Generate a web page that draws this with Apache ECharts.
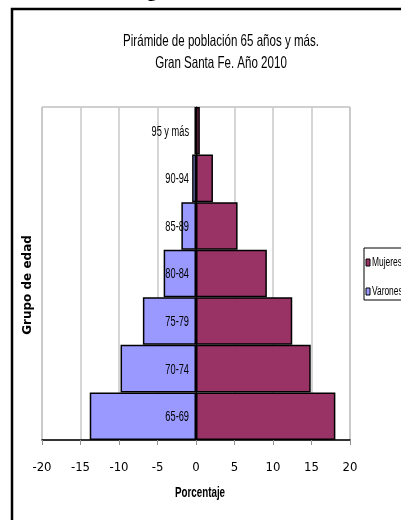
<!DOCTYPE html>
<html>
<head>
<meta charset="utf-8">
<script src="https://cdn.jsdelivr.net/npm/echarts@6/dist/echarts.min.js"></script>
<style>
  html, body { margin: 0; padding: 0; background: #fff; }
  #chart { width: 401px; height: 520px; }
</style>
</head>
<body>
<div id="chart"></div>
<script>
// Age groups, bottom to top
var ageGroups = ['65-69', '70-74', '75-79', '80-84', '85-89', '90-94', '95 y más'];
// Percent of the 65+ population, men shown as negative values
var varones = [-13.8, -9.8, -6.9, -4.2, -1.9, -0.5, -0.2];
var mujeres = [18.1, 14.9, 12.5, 9.2, 5.4, 2.2, 0.5];
var xTicks = { min: -20, max: 20, step: 5 };

var colorMujeres = '#993366';
var colorVarones = '#9999ff';

var sans = "'Liberation Sans', Arial, sans-serif";
var cond = "'DejaVu Sans Condensed', 'DejaVu Sans', sans-serif";

var chart = echarts.init(document.getElementById('chart'), null, { renderer: 'canvas' });

// Narrow age-group labels placed just left of the zero line
function renderAgeLabel(params, api) {
  var p = api.coord([0, api.value(1)]);
  return {
    type: 'text',
    x: p[0] - 7,
    y: p[1] + 1,
    scaleX: 0.66,
    z2: 100,
    style: {
      text: ageGroups[api.value(1)],
      font: '14px ' + sans,
      fill: '#000',
      align: 'right',
      verticalAlign: 'middle'
    }
  };
}

// Boxed legend on the right edge, with condensed text
function legendItem(name, color, y) {
  return [
    {
      type: 'rect', silent: true,
      shape: { x: 366, y: y - 3, width: 4, height: 7 },
      style: { fill: color, stroke: '#000', lineWidth: 1 }
    },
    {
      type: 'text', silent: true,
      x: 372, y: y + 1, scaleX: 0.7,
      style: { text: name, font: '12px ' + sans, fill: '#000', verticalAlign: 'middle' }
    }
  ];
}

chart.setOption({
  animation: false,
  backgroundColor: '#fff',
  grid: {
    left: 42, right: 51, top: 107, bottom: 80,
    outerBoundsMode: 'none',
    containLabel: false,
    show: true, borderColor: '#a0a0a0', borderWidth: 1
  },
  legend: { show: false, data: ['Mujeres', 'Varones'] },
  xAxis: {
    type: 'value',
    min: xTicks.min, max: xTicks.max, interval: xTicks.step,
    axisLine: { show: true, onZero: false, lineStyle: { color: '#000', width: 1.5 } },
    axisTick: { show: true, length: 5, lineStyle: { color: '#909090' } },
    splitLine: { show: true, lineStyle: { color: '#c8c8c8', width: 1.5 } },
    axisLabel: { fontFamily: cond, fontSize: 13, color: '#000', margin: 21 }
  },
  yAxis: {
    type: 'category',
    data: ageGroups,
    axisLine: { show: true, onZero: true, lineStyle: { color: '#000' } },
    axisTick: { show: false },
    splitLine: { show: false },
    axisLabel: { show: false }
  },
  series: [
    {
      name: 'Mujeres', type: 'bar', stack: 'pop',
      data: mujeres,
      barCategoryGap: 0,
      itemStyle: { color: colorMujeres, borderColor: '#000', borderWidth: 1.5 }
    },
    {
      name: 'Varones', type: 'bar', stack: 'pop',
      data: varones,
      barCategoryGap: 0,
      itemStyle: { color: colorVarones, borderColor: '#000', borderWidth: 1.5 }
    },
    {
      name: 'labels', type: 'custom',
      z: 10,
      silent: true,
      renderItem: renderAgeLabel,
      data: ageGroups.map(function (g, i) { return [0, i]; })
    }
  ],
  graphic: [
    {
      type: 'text', left: 130, top: -17, silent: true,
      style: { text: 'Figura N° 12', font: 'bold 19px "Liberation Serif", serif', fill: '#000' }
    },
    {
      type: 'rect', silent: true,
      shape: { x: 12, y: 9, width: 420, height: 540 },
      style: { fill: 'none', stroke: '#000', lineWidth: 2.5 }
    },
    {
      type: 'rect', silent: true,
      shape: { x: 364, y: 248, width: 60, height: 52 },
      style: { fill: '#fff', stroke: '#000', lineWidth: 1 }
    }
  ]
  .concat(legendItem('Mujeres', colorMujeres, 262))
  .concat(legendItem('Varones', colorVarones, 291))
  .concat([
    {
      type: 'text', silent: true,
      x: 221, y: 41, scaleX: 0.7,
      style: {
        text: 'Pirámide de población 65 años y más.',
        font: '16.5px ' + sans, fill: '#000', align: 'center', verticalAlign: 'middle'
      }
    },
    {
      type: 'text', silent: true,
      x: 221, y: 63, scaleX: 0.7,
      style: {
        text: 'Gran Santa Fe. Año 2010',
        font: '16.5px ' + sans, fill: '#000', align: 'center', verticalAlign: 'middle'
      }
    },
    {
      type: 'text', silent: true,
      x: 200, y: 493, scaleX: 0.7,
      style: {
        text: 'Porcentaje',
        font: 'bold 14px ' + sans, fill: '#000', align: 'center', verticalAlign: 'middle'
      }
    },
    {
      type: 'text', silent: true,
      x: 28, y: 285, rotation: Math.PI / 2,
      style: {
        text: 'Grupo de edad',
        font: 'bold 12px "DejaVu Sans", sans-serif', fill: '#000',
        align: 'center', verticalAlign: 'middle'
      }
    }
  ])
});
</script>
</body>
</html>
